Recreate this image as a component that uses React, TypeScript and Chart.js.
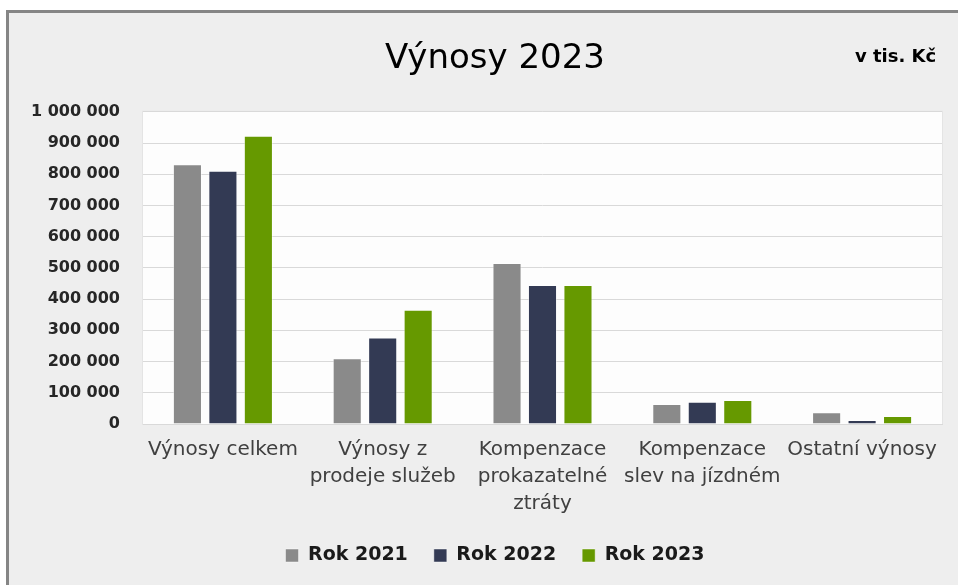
import React, { useEffect, useRef } from "react";
import { Chart, registerables } from "chart.js";

Chart.register(...registerables);

const categories: string[][] = [
  ["Výnosy celkem"],
  ["Výnosy z", "prodeje služeb"],
  ["Kompenzace", "prokazatelné", "ztráty"],
  ["Kompenzace", "slev na jízdném"],
  ["Ostatní výnosy"],
];
const seriesNames = ["Rok 2021", "Rok 2022", "Rok 2023"];
const rok2021 = [832000, 211000, 516000, 64000, 38000];
const rok2022 = [811000, 277000, 445000, 71000, 13000];
const rok2023 = [923000, 366000, 445000, 77000, 26000];
const seriesColors = ["#8A8A8A", "#333A54", "#669900"];
const titleText = "Výnosy 2023";
const unitText = "v tis. Kč";

const FONT = "'DejaVu Sans', sans-serif";

const plotBg = {
  id: "plotBg",
  afterLayout(chart: any) {
    const y = chart.scales.y;
    if (y) {
      y.left = 0;
      y.width = y.right;
    }
  },
  beforeDraw(chart: any) {
    const { ctx, chartArea } = chart;
    if (!chartArea) return;
    ctx.save();
    ctx.fillStyle = "#FDFDFD";
    ctx.fillRect(chartArea.left, chartArea.top, chartArea.right - chartArea.left, chartArea.bottom - chartArea.top);
    ctx.strokeStyle = "#E4E4E4";
    ctx.lineWidth = 1;
    ctx.strokeRect(chartArea.left - 0.5, chartArea.top - 0.5, chartArea.right - chartArea.left + 1, chartArea.bottom - chartArea.top + 1);
    ctx.restore();
  },
};

export default function App() {
  const ref = useRef<HTMLCanvasElement>(null);
  useEffect(() => {
    if (!ref.current) return;
    const data = [rok2021, rok2022, rok2023];
    const chart = new Chart(ref.current, {
      type: "bar",
      data: {
        labels: categories as any,
        datasets: seriesNames.map((name, i) => ({
          label: name,
          data: data[i],
          backgroundColor: seriesColors[i],
          borderColor: "rgba(255,255,255,0.45)",
          borderWidth: 1,
          categoryPercentage: 0.666,
          barPercentage: 0.82,
        })),
      },
      options: {
        animation: false,
        responsive: false,
        maintainAspectRatio: false,
        layout: { padding: { left: 48, right: 16, top: 0, bottom: 10 } },
        plugins: {
          title: {
            display: true,
            text: titleText,
            color: "#000000",
            font: { family: FONT, size: 34, weight: "normal", lineHeight: 1.2 },
            padding: { top: 39, bottom: 32 },
          },
          legend: {
            position: "bottom",
            labels: {
              color: "#1A1A1A",
              font: { family: FONT, size: 19, weight: "bold" },
              boxWidth: 13,
              boxHeight: 13,
              padding: 26,
            },
          },
          tooltip: { enabled: false },
        },
        scales: {
          x: {
            grid: { display: false, drawTicks: false },
            border: { display: true, color: "#D9D9D9" },
            afterFit: (scale: any) => {
              scale.height = 96;
            },
            ticks: {
              color: "#404040",
              font: { family: FONT, size: 20, lineHeight: 1.35 },
              padding: 12,
              autoSkip: false,
              maxRotation: 0,
              minRotation: 0,
            },
          },
          y: {
            min: 0,
            max: 1000000,
            grid: { color: "#D9D9D9", lineWidth: 1, drawTicks: false },
            border: { display: false },
            afterFit: (scale: any) => {
              scale.width = 95;
            },
            ticks: {
              stepSize: 100000,
              color: "#262626",
              font: { family: FONT, size: 16, weight: "bold" },
              padding: 23,
              callback: (v: any) => String(v).replace(/\B(?=(\d{3})+(?!\d))/g, " "),
            },
          },
        },
      },
      plugins: [plotBg],
    });
    return () => chart.destroy();
  }, []);

  return (
    <div style={{ position: "fixed", left: 0, top: 0, width: 958, height: 585, background: "#FFFFFF", overflow: "hidden" }}>
      <div
        style={{
          position: "absolute",
          left: 6,
          top: 10,
          width: 1000,
          height: 600,
          background: "#EEEEEE",
          borderLeft: "3px solid #858585",
          borderTop: "3px solid #858585",
        }}
      />
      <canvas ref={ref} width={958} height={585} style={{ position: "absolute", left: 0, top: 0 }} />
      <span
        style={{
          position: "absolute",
          left: 855,
          top: 45,
          fontFamily: FONT,
          fontWeight: "bold",
          fontSize: 18,
          color: "#000000",
          whiteSpace: "nowrap",
        }}
      >
        {unitText}
      </span>
    </div>
  );
}
